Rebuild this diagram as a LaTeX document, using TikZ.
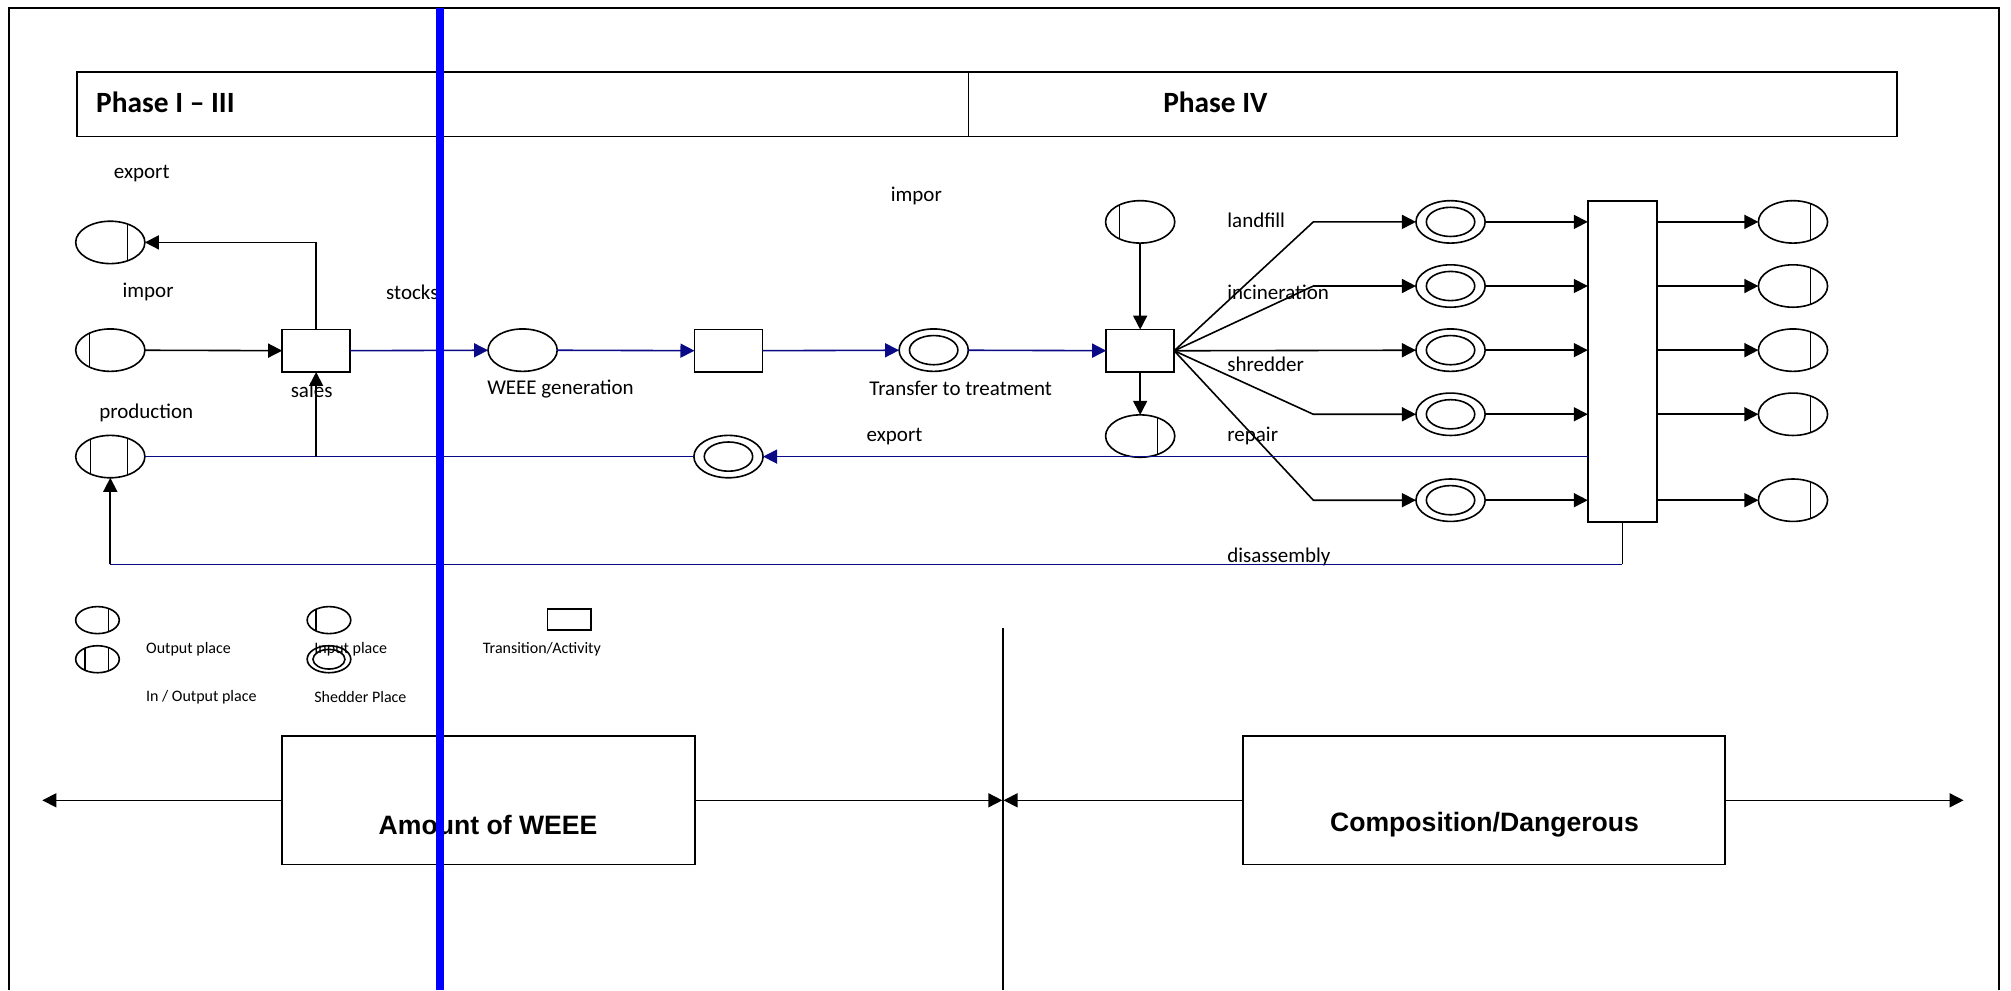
\documentclass[tikz,border=0pt]{standalone}
\usepackage{fontspec}
\setmainfont{Carlito}
\newfontfamily\arialf{Liberation Sans}
\usetikzlibrary{arrows.meta,shapes.geometric,calc}
\definecolor{navy}{RGB}{10,10,135}
\definecolor{pureblue}{RGB}{0,0,255}
\begin{document}
\begin{tikzpicture}[x=0.64125pt,y=-0.64125pt,
  every node/.style={inner sep=0pt, outer sep=0pt},
  ln/.style={line width=0.8pt},
  place/.style={ellipse, draw, ln, minimum width=34.6pt, minimum height=21.2pt},
  small/.style={minimum width=21.8pt, minimum height=13.5pt},
  outbar/.style={path picture={\draw[ln] ($(path picture bounding box.north)!0.5!(path picture bounding box.north east)$) -- ($(path picture bounding box.south)!0.5!(path picture bounding box.south east)$);}},
  inbar/.style={path picture={\draw[ln] ($(path picture bounding box.north)!0.6!(path picture bounding box.north west)$) -- ($(path picture bounding box.south)!0.6!(path picture bounding box.south west)$);}},
  iobar/.style={path picture={\draw[ln] ($(path picture bounding box.north)!0.5!(path picture bounding box.north east)$) -- ($(path picture bounding box.south)!0.5!(path picture bounding box.south east)$);
     \draw[ln] ($(path picture bounding box.north)!0.57!(path picture bounding box.north west)$) -- ($(path picture bounding box.south)!0.57!(path picture bounding box.south west)$);}},
  shed/.style={place, path picture={\draw[ln] (path picture bounding box.center) ellipse [x radius=12.1pt, y radius=7.3pt];}},
  shedsmall/.style={place, small, path picture={\draw[ln] (path picture bounding box.center) ellipse [x radius=8pt, y radius=4.9pt];}},
  trans/.style={rectangle, draw, ln, minimum width=34pt, minimum height=21.2pt},
  arr/.style={ln, -{Triangle[length=7pt,width=7pt]}},
  blu/.style={arr, draw=navy},
  bluline/.style={ln, draw=navy},
  lbl/.style={font=\fontsize{10.5}{12}\selectfont},
  leg/.style={font=\fontsize{8}{9.6}\selectfont},
  bigbox/.style={rectangle, draw, ln, minimum width=206.5pt, minimum height=64.1pt},
  bigtxt/.style={font=\arialf\bfseries\fontsize{13.3}{16}\selectfont}
]
\useasboundingbox (0,0) rectangle (1568,772);

% outer frame
\draw[line width=1pt] (7,772) -- (7,6) -- (1559,6) -- (1559,772);

% phase header
\draw[ln] (60,56) rectangle (1479,106.5);
\draw[ln] (755,56) -- (755,106.5);
\node[anchor=west, font=\bfseries\fontsize{14.7}{17}\selectfont] (ph1) at (75,80) {Phase I – III};
\node[anchor=west, font=\bfseries\fontsize{14.7}{17}\selectfont] (ph2) at (907,80) {Phase IV};

% places and transitions
\node[place, outbar] (expO) at (86,189) {};
\node[place, inbar] (impI) at (86,273) {};
\node[place, iobar] (prod) at (86,356) {};
\node[trans] (sales) at (246.5,273.5) {};
\node[place] (weee) at (407.5,273) {};
\node[trans] (t2) at (568,273.5) {};
\node[shed] (transfer) at (728,273) {};
\node[trans] (t3) at (889,273.5) {};
\node[place, inbar] (imp2) at (889,173) {};
\node[place, outbar] (exp2) at (889,340) {};
\node[shed] (expS) at (568,356) {};

\node[shed] (s1) at (1131,173) {};
\node[shed] (s2) at (1131,223) {};
\node[shed] (s3) at (1131,273) {};
\node[shed] (s4) at (1131,323) {};
\node[shed] (s5) at (1131,390) {};

\node[rectangle, draw, ln, minimum width=34.6pt, minimum height=160.6pt] (bb) at (1265,281.75) {};

\node[place, outbar] (o1) at (1398,173) {};
\node[place, outbar] (o2) at (1398,223) {};
\node[place, outbar] (o3) at (1398,273) {};
\node[place, outbar] (o4) at (1398,323) {};
\node[place, outbar] (o5) at (1398,390) {};

% labels
\node[lbl] (lexp) at (110.5,135) {export};
\node[lbl] (limp) at (115.5,228) {impor};
\node[lbl] (lsto) at (321.5,228) {stocks};
\node[lbl] (lsal) at (243,304) {sales};
\node[lbl] (lpro) at (114,322) {production};
\node[lbl] (lwee) at (437,303) {WEEE generation};
\node[lbl] (ltra) at (749,303) {Transfer to treatment};
\node[lbl] (limp2) at (714.5,153) {impor};
\node[lbl] (lexp2) at (697.5,340) {export};
\node[lbl, anchor=west] (llan) at (957,172) {landfill};
\node[lbl, anchor=west] (linc) at (957,228) {incineration};
\node[lbl, anchor=west] (lshr) at (957,284) {shredder};
\node[lbl, anchor=west] (lrep) at (957,340) {repair};
\node[lbl, anchor=west] (ldis) at (957,434) {disassembly};

% connectors
\draw[arr] (impI) -- (sales);
\draw[arr] (sales.north) |- (expO.east);
\draw[blu] (sales) -- (weee);
\draw[blu] (weee) -- (t2);
\draw[blu] (t2) -- (transfer);
\draw[blu] (transfer) -- (t3);
\draw[arr] (imp2) -- (t3);
\draw[arr] (t3) -- (exp2);

\coordinate (f1) at (1024,173);
\coordinate (f2) at (1024,223);
\coordinate (f4) at (1024,323);
\coordinate (f5) at (1024,390);
\draw[arr] (t3.east) -- (f1) -- (s1);
\draw[arr] (t3.east) -- (f2) -- (s2);
\draw[arr] (t3.east) -- (s3);
\draw[arr] (t3.east) -- (f4) -- (s4);
\draw[arr] (t3.east) -- (f5) -- (s5);

\foreach \i in {1,...,5} {
  \draw[arr] (s\i) -- (s\i -| bb.west);
  \draw[arr] (s\i -| bb.east) -- (o\i);
}

\draw[blu] (bb.west |- expS.east) -- (expS.east);
\draw[bluline] (expS.west) -- (prod.east);
\draw[arr] (sales.south |- prod.east) -- (sales.south);

\coordinate (dc) at (1265,440);
\coordinate (dl) at (86,440);
\draw[ln] (bb.south) -- (dc);
\draw[bluline] (dc) -- (dl);
\draw[arr] (dl) -- (prod.south);

% legend
\node[place, small, outbar] (gout) at (76,483.5) {};
\node[place, small, iobar] (gio) at (76,514) {};
\node[place, small, inbar] (gin) at (256.5,483.5) {};
\node[shedsmall] (gshed) at (256.5,514) {};
\node[rectangle, draw, ln, minimum width=21.8pt, minimum height=10.3pt] (gtr) at (444,483) {};
\node[leg] (tout) at (147,506) {Output place};
\node[leg] (tin) at (273.5,506) {Input place};
\node[leg] (ttr) at (422.5,506) {Transition/Activity};
\node[leg] (tio) at (157,543.5) {In / Output place};
\node[leg] (tsh) at (281,543.5) {Shedder Place};

% bottom section
\draw[ln] (782,490) -- (782,772);
\node[bigbox] (amt) at (381,624) {};
\node[bigbox, minimum width=241.1pt] (comp) at (1157,624) {};
\node[bigtxt] (amtT) at (380.5,643) {Amount of WEEE};
\node[bigtxt] (compT) at (1157.5,643) {Composition/Dangerous};
\coordinate (le) at (33,624);
\coordinate (ml) at (781.5,624);
\coordinate (mr) at (782.5,624);
\coordinate (re) at (1531,624);
\draw[arr] (amt.west) -- (le);
\draw[arr] (amt.east) -- (ml);
\draw[arr] (comp.west) -- (mr);
\draw[arr] (comp.east) -- (re);

% thick blue line
\draw[pureblue, line width=3.9pt] (343,6) -- (343,772);
\end{tikzpicture}
\end{document}
